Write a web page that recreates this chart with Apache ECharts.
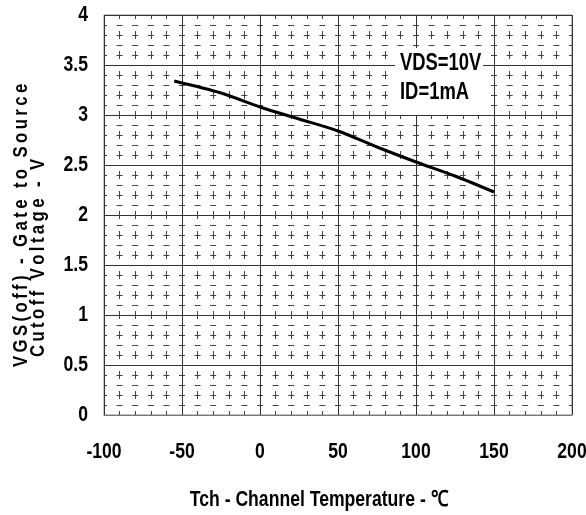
<!DOCTYPE html>
<html>
<head>
<meta charset="utf-8">
<script src="https://cdn.jsdelivr.net/npm/echarts@6/dist/echarts.min.js"></script>
<style>
  html, body { margin: 0; padding: 0; background: #fff; }
  #chart { width: 586px; height: 515px; }
</style>
</head>
<body>
<div id="chart"></div>
<script>
// Gate-source cutoff voltage versus channel temperature
var temperature = [-55, -25, 0, 25, 50, 75, 100, 125, 150];
var vgsOff      = [3.34, 3.22, 3.08, 2.96, 2.84, 2.68, 2.53, 2.39, 2.23];
var xTickValues = [-100, -50, 0, 50, 100, 150, 200];
var yTickValues = [0, 0.5, 1, 1.5, 2, 2.5, 3, 3.5, 4];
var conditionLines = ['VDS=10V', 'ID=1mA'];
var xTitle = 'Tch - Channel Temperature - ℃';
var yTitleLines = ['VGS(off) - Gate to Source', 'Cutoff Voltage - V'];

// Bold face squeezed horizontally to get the condensed lettering
var FONT = 'bold 21px "Liberation Sans", Arial, sans-serif';
var SQUEEZE = 0.8;
var THIN = '\u2009';
function spaced(s) { return s.split('').join(THIN); }

var chart = echarts.init(document.getElementById('chart'));

var points = temperature.map(function (t, i) { return [t, vgsOff[i]]; });
var xMin = xTickValues[0], xMax = xTickValues[xTickValues.length - 1];
var yMin = yTickValues[0], yMax = yTickValues[yTickValues.length - 1];

var staticGraphics = [
  {
    type: 'rect', left: 395, top: 48, z: 10,
    shape: { width: 88, height: 67 },
    style: { fill: '#fff' }
  },
  {
    type: 'text', z: 11, x: 400, y: 64, scaleX: SQUEEZE,
    style: { text: conditionLines[0], fill: '#000', font: 'bold 23px "Liberation Sans", Arial, sans-serif', verticalAlign: 'middle' }
  },
  {
    type: 'text', z: 11, x: 400, y: 93, scaleX: SQUEEZE,
    style: { text: conditionLines[1], fill: '#000', font: 'bold 23px "Liberation Sans", Arial, sans-serif', verticalAlign: 'middle' }
  },
  {
    type: 'text', z: 11, x: 319, y: 500, scaleX: SQUEEZE,
    style: { text: xTitle, fill: '#000', font: 'bold 22px "Liberation Sans", Arial, sans-serif', align: 'center', verticalAlign: 'middle' }
  },
  {
    type: 'text', z: 11, x: 21, y: 367, rotation: Math.PI / 2, scaleX: SQUEEZE,
    style: { text: spaced(yTitleLines[0]), fill: '#000', font: FONT, align: 'left', verticalAlign: 'middle' }
  },
  {
    type: 'text', z: 11, x: 38, y: 357, rotation: Math.PI / 2, scaleX: SQUEEZE,
    style: { text: spaced(yTitleLines[1]), fill: '#000', font: FONT, align: 'left', verticalAlign: 'middle' }
  }
];

chart.setOption({
  animation: false,
  backgroundColor: '#fff',
  grid: {
    left: 104, right: 14, top: 15, bottom: 100,
    show: true, borderColor: '#888', borderWidth: 1
  },
  xAxis: {
    type: 'value',
    min: xMin, max: xMax, interval: 50,
    axisLine: { show: true, lineStyle: { color: '#777', width: 1 } },
    axisTick: { show: false },
    minorTick: { show: false, splitNumber: 5 },
    axisLabel: { show: false },
    splitLine: { show: true, lineStyle: { color: '#333', width: 1 } },
    minorSplitLine: { show: true, lineStyle: { color: '#444', width: 1, type: [8, 12], dashOffset: 4 } }
  },
  yAxis: {
    type: 'value',
    min: yMin, max: yMax, interval: 0.5,
    axisLine: { show: true, lineStyle: { color: '#333', width: 1 } },
    axisTick: { show: false },
    minorTick: { show: false, splitNumber: 5 },
    axisLabel: { show: false },
    splitLine: { show: true, lineStyle: { color: '#333', width: 1 } },
    minorSplitLine: { show: true, lineStyle: { color: '#444', width: 1, type: [6, 9.6], dashOffset: 3 } }
  },
  series: [{
    type: 'line',
    data: points,
    smooth: 0.3,
    showSymbol: false,
    lineStyle: { color: '#000', width: 3 },
    z: 5
  }],
  graphic: staticGraphics
});

// Tick labels placed through the axis scales, drawn condensed
var tickGraphics = [];
xTickValues.forEach(function (v) {
  var p = chart.convertToPixel({ gridIndex: 0 }, [v, yMin]);
  tickGraphics.push({
    type: 'text', z: 11, x: p[0], y: p[1] + 37, scaleX: SQUEEZE,
    style: { text: String(v), fill: '#000', font: 'bold 22px "Liberation Sans", Arial, sans-serif', align: 'center', verticalAlign: 'middle' }
  });
});
yTickValues.forEach(function (v) {
  var p = chart.convertToPixel({ gridIndex: 0 }, [xMin, v]);
  tickGraphics.push({
    type: 'text', z: 11, x: p[0] - 16, y: p[1], scaleX: SQUEEZE,
    style: { text: String(v), fill: '#000', font: 'bold 22px "Liberation Sans", Arial, sans-serif', align: 'right', verticalAlign: 'middle' }
  });
});
chart.setOption({ graphic: staticGraphics.concat(tickGraphics) }, { replaceMerge: ['graphic'] });
</script>
</body>
</html>
